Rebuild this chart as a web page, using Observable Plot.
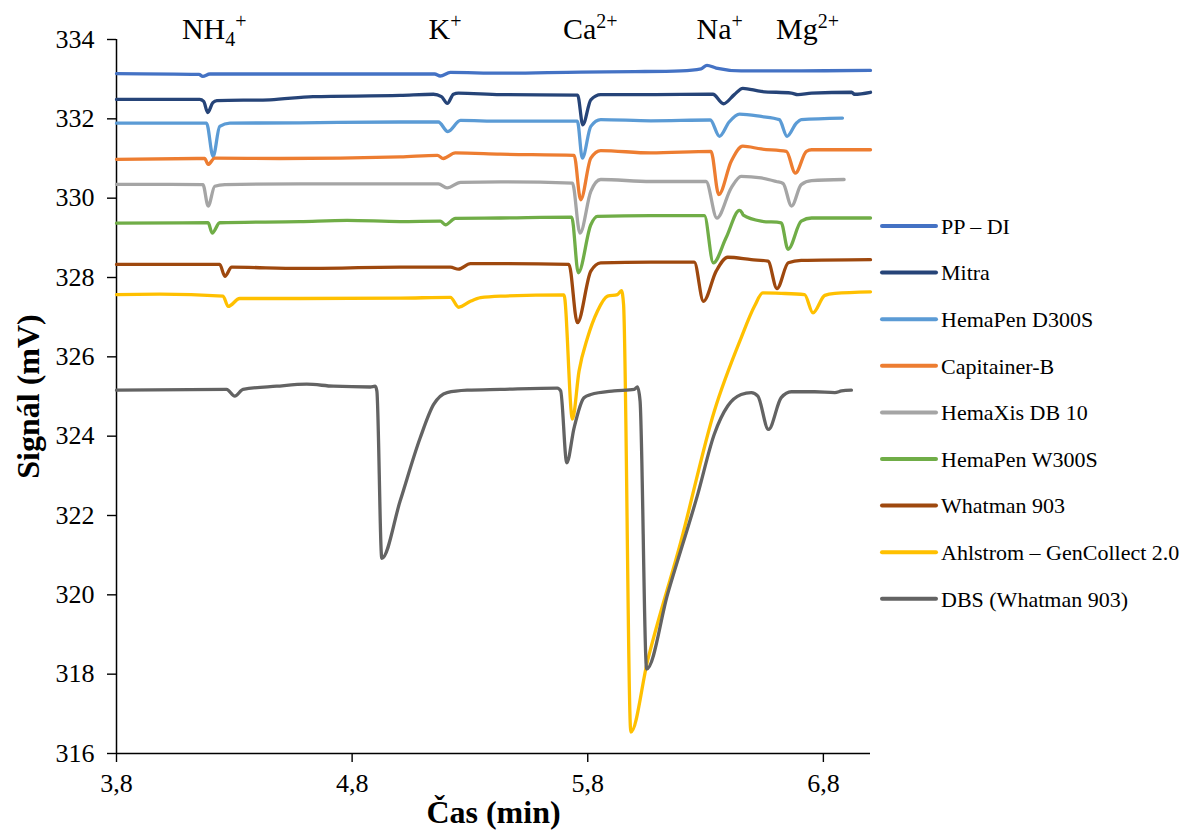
<!DOCTYPE html>
<html><head><meta charset="utf-8">
<script src="https://cdn.jsdelivr.net/npm/d3@7"></script>
<script src="https://cdn.jsdelivr.net/npm/@observablehq/plot@0.6"></script>
<style>body{margin:0;background:#fff;font-family:"Liberation Serif",serif;overflow:hidden}</style>
</head><body><div id="chart"></div><script>
const seriesNames = ["PP – DI","Mitra","HemaPen D300S","Capitainer-B","HemaXis DB 10","HemaPen W300S","Whatman 903","Ahlstrom – GenCollect 2.0","DBS (Whatman 903)"];
const seriesColors = ["#4472C4","#264478","#5B9BD5","#ED7D31","#A5A5A5","#70AD47","#9E480E","#FFC000","#636363"];

const ppDi = [[3.8,333.14],[4.15,333.12],[4.166,333.07],[4.196,333.13],[4.6,333.13],[5.15,333.13],[5.174,333.08],[5.217,333.17],[5.43,333.15],[5.77,333.18],[6.0,333.19],[6.196,333.21],[6.281,333.26],[6.306,333.35],[6.345,333.28],[6.451,333.21],[6.706,333.21],[7.0,333.22]];
const mitra = [[3.8,332.49],[4.153,332.49],[4.17,332.44],[4.187,332.16],[4.209,332.41],[4.226,332.46],[4.451,332.48],[4.634,332.56],[5.004,332.59],[5.145,332.62],[5.179,332.56],[5.204,332.39],[5.23,332.62],[5.251,332.65],[5.43,332.61],[5.757,332.60],[5.779,331.85],[5.813,332.48],[5.855,332.61],[6.068,332.61],[6.331,332.62],[6.376,332.38],[6.422,332.61],[6.458,332.77],[6.536,332.69],[6.664,332.65],[6.692,332.61],[6.75,332.65],[6.92,332.67],[6.932,332.62],[7.0,332.67]];
const hemaPenD300S = [[3.8,331.89],[4.182,331.89],[4.21,331.05],[4.238,331.81],[4.281,331.89],[4.579,331.90],[5.004,331.92],[5.166,331.92],[5.206,331.68],[5.26,331.96],[5.43,331.94],[5.756,331.94],[5.777,331.01],[5.813,331.81],[5.855,331.98],[6.068,331.95],[6.32,331.97],[6.359,331.56],[6.40,331.92],[6.444,332.12],[6.536,332.06],[6.613,331.98],[6.646,331.56],[6.685,331.89],[6.706,331.98],[6.881,332.02]];
const capitainerB = [[3.8,330.98],[4.174,331.00],[4.189,330.85],[4.217,331.01],[4.494,331.00],[5.004,331.04],[5.162,331.08],[5.187,331.00],[5.238,331.14],[5.43,331.11],[5.742,331.08],[5.77,329.96],[5.813,331.01],[5.855,331.20],[6.068,331.14],[6.323,331.18],[6.356,330.09],[6.409,330.93],[6.458,331.31],[6.536,331.24],[6.643,331.18],[6.681,330.63],[6.728,331.18],[6.75,331.22],[7.0,331.22]];
const hemaXis = [[3.8,330.35],[4.167,330.34],[4.189,329.80],[4.217,330.30],[4.26,330.34],[4.579,330.36],[5.004,330.36],[5.166,330.36],[5.203,330.26],[5.26,330.40],[5.43,330.41],[5.735,330.38],[5.767,329.12],[5.813,330.17],[5.855,330.47],[6.068,330.42],[6.302,330.42],[6.348,329.50],[6.409,330.26],[6.451,330.55],[6.536,330.51],[6.6,330.42],[6.629,330.37],[6.665,329.80],[6.706,330.34],[6.75,330.44],[6.888,330.47]];
const hemaPenW300S = [[3.8,329.37],[4.189,329.38],[4.206,329.12],[4.238,329.38],[4.579,329.41],[4.779,329.44],[5.004,329.41],[5.174,329.42],[5.196,329.33],[5.238,329.49],[5.43,329.50],[5.732,329.52],[5.76,328.12],[5.813,329.33],[5.841,329.54],[6.068,329.56],[6.295,329.56],[6.333,328.37],[6.387,329.00],[6.444,329.69],[6.455,329.63],[6.46,329.57],[6.536,329.42],[6.621,329.38],[6.65,328.71],[6.706,329.42],[6.75,329.50],[7.0,329.50]];
const whatman903 = [[3.8,328.33],[4.238,328.33],[4.26,328.03],[4.289,328.26],[4.579,328.23],[5.004,328.26],[5.217,328.26],[5.252,328.21],[5.302,328.35],[5.43,328.35],[5.72,328.33],[5.756,326.86],[5.813,328.16],[5.855,328.37],[6.068,328.39],[6.252,328.39],[6.291,327.40],[6.345,328.16],[6.394,328.51],[6.494,328.45],[6.565,328.41],[6.603,327.72],[6.651,328.37],[6.706,328.43],[7.0,328.45]];
const ahlstrom = [[3.8,327.57],[3.983,327.58],[4.252,327.53],[4.274,327.27],[4.323,327.47],[4.579,327.47],[5.004,327.48],[5.217,327.50],[5.252,327.25],[5.302,327.40],[5.345,327.49],[5.43,327.53],[5.699,327.56],[5.735,324.43],[5.763,325.64],[5.799,326.48],[5.841,327.15],[5.884,327.53],[5.926,327.57],[5.943,327.67],[5.952,327.32],[5.983,316.54],[6.054,318.34],[6.196,321.36],[6.337,324.63],[6.451,326.48],[6.508,327.28],[6.543,327.61],[6.621,327.60],[6.72,327.57],[6.756,327.11],[6.806,327.55],[6.849,327.60],[7.0,327.64]];
const dbsWhatman = [[3.8,325.16],[4.267,325.18],[4.302,325.01],[4.337,325.18],[4.48,325.26],[4.607,325.31],[4.72,325.26],[4.877,325.24],[4.898,325.26],[4.905,325.14],[4.926,320.92],[5.004,322.37],[5.089,323.96],[5.146,324.80],[5.203,325.10],[5.288,325.16],[5.43,325.18],[5.671,325.21],[5.685,325.14],[5.711,323.33],[5.742,324.21],[5.784,324.97],[5.813,325.05],[5.912,325.14],[5.997,325.18],[6.011,325.24],[6.022,324.89],[6.05,318.13],[6.139,320.02],[6.267,322.54],[6.337,324.05],[6.394,324.76],[6.451,325.05],[6.494,325.10],[6.522,325.01],[6.567,324.17],[6.621,324.97],[6.664,325.12],[6.763,325.12],[6.849,325.10],[6.877,325.14],[6.919,325.16]];

const seriesData = [ppDi, mitra, hemaPenD300S, capitainerB, hemaXis, hemaPenW300S, whatman903, ahlstrom, dbsWhatman];

const ionBase = ["NH","K","Ca","Na","Mg"];
const ionSub = ["4","","","",""];
const ionSup = ["+","+","2+","+","2+"];
const ionTimes = [4.217,5.196,5.813,6.362,6.735];

const xTicks = [3.8,4.8,5.8,6.8];
const yTicks = [316,318,320,322,324,326,328,330,332,334];

const rows = seriesData.flatMap((pts,i)=>pts.map(([t,v])=>({series:seriesNames[i], t, v})));

const FONT = "'Liberation Serif', 'Times New Roman', serif";

const chart = Plot.plot({
  width:1188, height:832,
  marginLeft:116, marginRight:318, marginTop:39, marginBottom:79,
  style:{fontFamily:FONT, fontSize:"26px", background:"white", color:"black"},
  x:{domain:[3.8,7.0]},
  y:{domain:[316,334]},
  color:{domain:seriesNames, range:seriesColors},
  marks:[
    Plot.axisY({ticks:yTicks, tickSize:9, tickPadding:13, fontSize:26, label:null, tickFormat:d=>String(d), strokeWidth:1.4}),
    Plot.axisX({ticks:xTicks, tickSize:9, tickPadding:11, fontSize:26, label:null, tickFormat:d=>d.toFixed(1).replace(".",","), strokeWidth:1.4}),
    Plot.ruleX([3.8],{stroke:"black", strokeWidth:1.5}),
    Plot.ruleY([316],{stroke:"black", strokeWidth:1.5}),
    Plot.line(rows,{x:"t", y:"v", z:"series", stroke:"series", strokeWidth:3.3, curve:"monotone-x", strokeLinejoin:"round", strokeLinecap:"round"}),
    Plot.text(["Čas (min)"],{frameAnchor:"bottom", dy:69, fontSize:32, fontWeight:"bold", fill:"black"}),
    Plot.text(["Signál (mV)"],{frameAnchor:"left", textAnchor:"middle", dx:-88, rotate:-90, fontSize:32, fontWeight:"bold", fill:"black"})
  ]
});
document.getElementById("chart").appendChild(chart);

const svg = d3.select(chart);
svg.selectAll('g[aria-label="y-axis tick label"] text, g[aria-label="x-axis tick label"] text')
  .style("font-size","26px").style("font-family",FONT);
const xs = chart.scale("x"), ys = chart.scale("y");
// ion labels
const ionG = svg.append("g").style("font-family",FONT).attr("fill","black");
ionBase.forEach((b,i)=>{
  const t = ionG.append("text").attr("x", xs.apply(ionTimes[i])).attr("y", ys.apply(334)).attr("text-anchor","middle").style("font-size","30px");
  t.append("tspan").text(b);
  if (ionSub[i]) {
    t.append("tspan").style("font-size","20px").attr("dy",7).text(ionSub[i]);
    t.append("tspan").style("font-size","20px").attr("dy",-18).text(ionSup[i]);
  } else {
    t.append("tspan").style("font-size","20px").attr("dy",-11).text(ionSup[i]);
  }
});
// legend
const xr = xs.range[1];
const leg = svg.append("g").style("font-family",FONT).attr("fill","black");
seriesNames.forEach((name,i)=>{
  const y0 = 226 + i*46.6;
  leg.append("line").attr("x1",xr+12).attr("x2",xr+66).attr("y1",y0).attr("y2",y0)
    .attr("stroke",seriesColors[i]).attr("stroke-width",4).attr("stroke-linecap","round");
  leg.append("text").attr("x",xr+71).attr("y",y0).attr("dy","0.35em").attr("text-anchor","start")
    .style("font-size","22px").style("font-family",FONT).text(name);
});
</script></body></html>
